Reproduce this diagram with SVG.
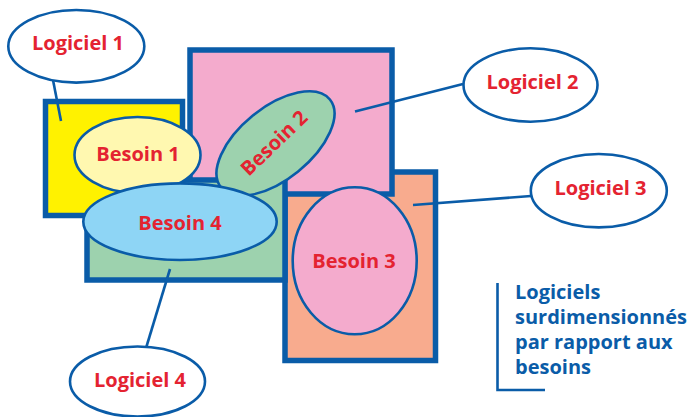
<svg xmlns="http://www.w3.org/2000/svg" width="691" height="417" viewBox="0 0 691 417">
  <style>
    .box { stroke: #0a5ca8; stroke-width: 5.5; }
    .need { stroke: #0a5ca8; stroke-width: 2.6; }
    .bubble { fill: #ffffff; stroke: #0a5ca8; stroke-width: 2.6; }
    .link { stroke: #0a5ca8; stroke-width: 2.6; fill: none; }
    .lbl { font-family: "Open Sans", "Liberation Sans", sans-serif; font-weight: 700; font-size: 20px; fill: #e42331; text-anchor: middle; }
    .note { font-family: "Open Sans", "Liberation Sans", sans-serif; font-weight: 700; font-size: 20px; fill: #0a5ca8; }
  </style>
  <rect width="691" height="417" fill="#ffffff"/>

  <!-- software boxes -->
  <g id="logiciel3-box"><rect class="box" x="285" y="172" width="150.5" height="188.5" fill="#f8ab8e"/></g>
  <g id="logiciel2-box"><rect class="box" x="190" y="50" width="202" height="144" fill="#f4abcd"/></g>
  <g id="logiciel4-box"><rect class="box" x="87" y="180" width="198" height="100" fill="#9dd2ae"/></g>
  <g id="logiciel1-box"><rect class="box" x="45.5" y="101.5" width="137" height="114" fill="#fff200"/></g>

  <!-- connectors -->
  <g id="connectors">
    <line class="link" x1="53" y1="80" x2="61" y2="121"/>
    <line class="link" x1="463" y1="84" x2="355" y2="111.5"/>
    <line class="link" x1="531" y1="196" x2="413" y2="205"/>
    <line class="link" x1="146.5" y1="346.5" x2="170" y2="269"/>
  </g>

  <!-- needs -->
  <g id="besoin1">
    <ellipse class="need" cx="137.5" cy="155" rx="63" ry="38" fill="#fff8b0"/>
    <text class="lbl" x="138" y="161">Besoin 1</text>
  </g>
  <g id="besoin2">
    <ellipse class="need" cx="275.5" cy="143.5" rx="70" ry="36" transform="rotate(-39 275.5 143.5)" fill="#9dd2ae"/>
    <text class="lbl" x="274" y="150" transform="rotate(-44 274 143)">Besoin 2</text>
  </g>
  <g id="besoin3">
    <ellipse class="need" cx="354.7" cy="260.8" rx="62" ry="73.5" fill="#f4abcd"/>
    <text class="lbl" x="354" y="268">Besoin 3</text>
  </g>
  <g id="besoin4">
    <ellipse class="need" cx="180" cy="221.7" rx="96.7" ry="38.3" fill="#8ed5f5"/>
    <text class="lbl" x="180" y="230">Besoin 4</text>
  </g>

  <!-- software bubbles -->
  <g id="logiciel1">
    <ellipse class="bubble" cx="76.3" cy="46.3" rx="68" ry="36.3"/>
    <text class="lbl" x="78" y="50">Logiciel 1</text>
  </g>
  <g id="logiciel2">
    <ellipse class="bubble" cx="530.5" cy="85" rx="67" ry="36.7"/>
    <text class="lbl" x="532.5" y="88.5">Logiciel 2</text>
  </g>
  <g id="logiciel3">
    <ellipse class="bubble" cx="598.8" cy="190.7" rx="68" ry="36.7"/>
    <text class="lbl" x="600.5" y="194.5">Logiciel 3</text>
  </g>
  <g id="logiciel4">
    <ellipse class="bubble" cx="137.5" cy="381.5" rx="67.5" ry="35"/>
    <text class="lbl" x="140" y="386.5">Logiciel 4</text>
  </g>

  <!-- side note -->
  <g id="note">
    <polyline class="link" points="497.5,283 497.5,390 545,390" stroke-width="2"/>
    <text class="note" x="515" y="298.5">Logiciels</text>
    <text class="note" x="515" y="324">surdimensionnés</text>
    <text class="note" x="515" y="349.3">par rapport aux</text>
    <text class="note" x="515" y="374">besoins</text>
  </g>
</svg>
